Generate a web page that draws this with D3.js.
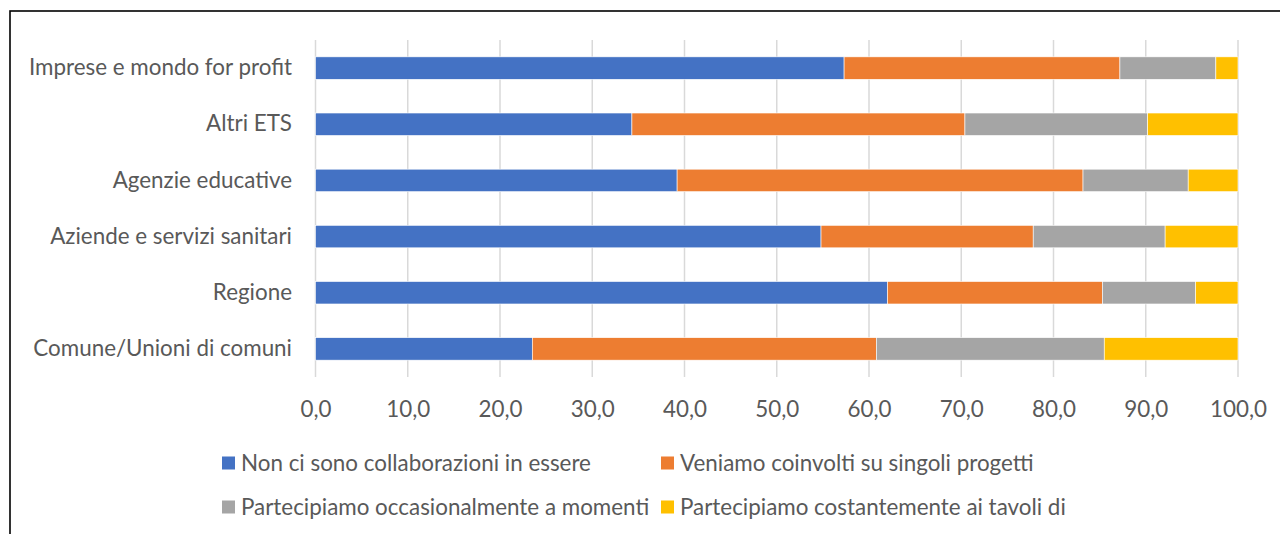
<!DOCTYPE html>
<html><head><meta charset="utf-8">
<script src="https://cdn.jsdelivr.net/npm/d3@7"></script>
<style>body{margin:0;background:#fff}svg{display:block}</style>
</head><body>
<svg id="c" width="1280" height="534"></svg>
<script>
const categories = ["Imprese e mondo for profit","Altri ETS","Agenzie educative","Aziende e servizi sanitari","Regione","Comune/Unioni di comuni"];
const seriesNames = ["Non ci sono collaborazioni in essere","Veniamo coinvolti su singoli progetti","Partecipiamo occasionalmente a momenti","Partecipiamo costantemente ai tavoli di"];
const nonCi =        [57.3, 34.3, 39.2, 54.8, 62.0, 23.5];
const veniamo =      [29.9, 36.1, 44.0, 23.0, 23.3, 37.3];
const occasionale =  [10.4, 19.8, 11.4, 14.3, 10.1, 24.7];
const costante =     [ 2.4,  9.8,  5.4,  7.9,  4.6, 14.5];
const tickValues = [0,10,20,30,40,50,60,70,80,90,100];
const colors = ["#4472C4","#ED7D31","#A5A5A5","#FFC000"];

const seriesVals = [nonCi, veniamo, occasionale, costante];
const rows = categories.map((c,i)=>{const o={cat:c}; seriesNames.forEach((s,j)=>o[s]=seriesVals[j][i]); return o;});
const stack = d3.stack().keys(seriesNames)(rows);

const svg = d3.select("#c");
const font = "Lato, 'Open Sans', sans-serif";
const fs = 22.4;
const txt = "#595959";

svg.append("rect").attr("x",10).attr("y",11).attr("width",1400).attr("height",700)
  .attr("fill","none").attr("stroke","#000").attr("stroke-width",1.6);

const x = d3.scaleLinear().domain([0,100]).range([315.5,1238]);
const y = d3.scaleBand().domain(categories).range([40,377]).paddingInner(0.6).paddingOuter(0.3);

// gridlines
svg.append("g").selectAll("line").data(tickValues).join("line")
  .attr("x1",d=>x(d)).attr("x2",d=>x(d)).attr("y1",40).attr("y2",377)
  .attr("stroke","#d9d9d9").attr("stroke-width",1.5);

// bars
svg.append("g").selectAll("g").data(stack).join("g")
  .attr("fill",(d,i)=>colors[i])
  .selectAll("rect").data(d=>d).join("rect")
  .attr("x",d=>x(d[0])).attr("width",d=>x(d[1])-x(d[0]))
  .attr("y",d=>y(d.data.cat)).attr("height",y.bandwidth())
  .attr("stroke","#fff").attr("stroke-width",0.6);

// x axis labels
const xAxis = d3.axisBottom(x).tickValues(tickValues).tickSize(0).tickPadding(0)
  .tickFormat(d=>d3.format(".1f")(d).replace(".",","));
const gx = svg.append("g").attr("transform","translate(0,401)").call(xAxis);
gx.select(".domain").remove();
gx.selectAll("text").attr("fill",txt).attr("font-family",font).attr("font-size",fs).attr("dy","0.71em");

// y axis labels
const yAxis = d3.axisLeft(y).tickSize(0).tickPadding(0);
const gy = svg.append("g").attr("transform","translate(292,0)").call(yAxis);
gy.select(".domain").remove();
gy.selectAll("text").attr("fill",txt).attr("font-family",font).attr("font-size",fs);

// legend
const legPos = [[222,463],[661,463],[222,507],[661,507]];
const leg = svg.append("g").selectAll("g").data(seriesNames).join("g")
  .attr("transform",(d,i)=>`translate(${legPos[i][0]},${legPos[i][1]})`);
leg.append("rect").attr("x",0).attr("y",-6.5).attr("width",13).attr("height",13).attr("fill",(d,i)=>colors[i]);
leg.append("text").attr("x",19).attr("dy","0.35em").text(d=>d)
  .attr("fill",txt).attr("font-family",font).attr("font-size",fs);
</script>
</body></html>
